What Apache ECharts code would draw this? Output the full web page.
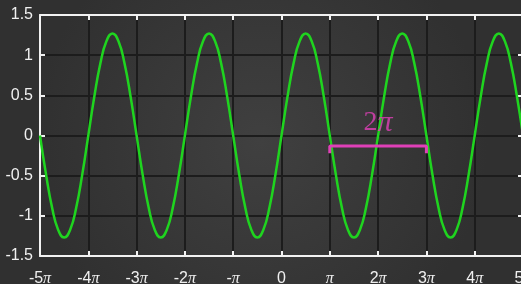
<!DOCTYPE html>
<html><head><meta charset="utf-8">
<script src="https://cdn.jsdelivr.net/npm/echarts@6/dist/echarts.min.js"></script>
<style>html,body{margin:0;padding:0;background:#353535}#c{width:521px;height:284px}</style>
</head><body><div id="c"></div>
<script>
// x in units of pi
const xValues = [
 -5,-4.875,-4.75,-4.625,-4.5,-4.375,-4.25,-4.125,
 -4,-3.875,-3.75,-3.625,-3.5,-3.375,-3.25,-3.125,
 -3,-2.875,-2.75,-2.625,-2.5,-2.375,-2.25,-2.125,
 -2,-1.875,-1.75,-1.625,-1.5,-1.375,-1.25,-1.125,
 -1,-0.875,-0.75,-0.625,-0.5,-0.375,-0.25,-0.125,
 0,0.125,0.25,0.375,0.5,0.625,0.75,0.875,
 1,1.125,1.25,1.375,1.5,1.625,1.75,1.875,
 2,2.125,2.25,2.375,2.5,2.625,2.75,2.875,
 3,3.125,3.25,3.375,3.5,3.625,3.75,3.875,
 4,4.125,4.25,4.375,4.5,4.625,4.75,4.875,
 5
];
const yValues = [
 0,-0.486,-0.898,-1.173,-1.27,-1.173,-0.898,-0.486,
 0,0.486,0.898,1.173,1.27,1.173,0.898,0.486,
 0,-0.486,-0.898,-1.173,-1.27,-1.173,-0.898,-0.486,
 0,0.486,0.898,1.173,1.27,1.173,0.898,0.486,
 0,-0.486,-0.898,-1.173,-1.27,-1.173,-0.898,-0.486,
 0,0.486,0.898,1.173,1.27,1.173,0.898,0.486,
 0,-0.486,-0.898,-1.173,-1.27,-1.173,-0.898,-0.486,
 0,0.486,0.898,1.173,1.27,1.173,0.898,0.486,
 0,-0.486,-0.898,-1.173,-1.27,-1.173,-0.898,-0.486,
 0,0.486,0.898,1.173,1.27,1.173,0.898,0.486,
 0
];
const xTickValues = [-5,-4,-3,-2,-1,0,1,2,3,4,5];
const xTickLabels = ['-5π','-4π','-3π','-2π','-π','0','π','2π','3π','4π','5π'];
const yTickLabels = ['-1.5','-1','-0.5','0','0.5','1','1.5'];
const bracketX = [1,1,3,3];
const bracketY = [-0.22,-0.13,-0.13,-0.22];
const bracketLabelPos = [2, 0.16];

const chart = echarts.init(document.getElementById('c'), null, {renderer:'canvas'});
const lineData = xValues.map((x,i)=>[x,yValues[i]]);
const brData = bracketX.map((x,i)=>[x,bracketY[i]]);
function fmtX(v){
  const i = xTickValues.indexOf(Math.round(v));
  const s = i>=0 ? xTickLabels[i] : '';
  return s.replace('π','{p|π}');
}
const axisLine = {show:true, onZero:false, lineStyle:{color:'#f2f2f2', width:2}};
const gridLine = {show:true, lineStyle:{color:'#1c1c1c', width:2}};
const tick = {show:true, inside:true, length:5, lineStyle:{color:'#f2f2f2', width:2}};
const labelFont = {color:'#f0f0f0', fontFamily:'Liberation Sans', fontSize:16};
chart.setOption({
  backgroundColor:{type:'radial', x:0.5, y:0.5, r:0.8, colorStops:[{offset:0,color:'#404040'},{offset:1,color:'#303030'}]},
  animation:false,
  grid:{left:40, top:15, width:483, height:241, containLabel:false, outerBoundsMode:'none'},
  xAxis:[
    {type:'value', position:'bottom', min:-5, max:5, interval:1,
     axisLine, axisTick:tick, splitLine:gridLine,
     axisLabel:Object.assign({}, labelFont, {margin:15, showMaxLabel:true, showMinLabel:true, formatter:fmtX,
       rich:{p:{fontFamily:'Liberation Serif', fontStyle:'italic', fontSize:16, color:'#f0f0f0'}}})},
    {type:'value', position:'top', min:-5, max:5, interval:1,
     axisLine, axisTick:tick, splitLine:{show:false}, axisLabel:{show:false}}
  ],
  yAxis:[
    {type:'value', position:'left', min:-1.5, max:1.5, interval:0.5,
     axisLine, axisTick:tick, splitLine:gridLine,
     axisLabel:Object.assign({}, labelFont, {margin:7, formatter:(v)=>{
       const i = Math.round((v+1.5)/0.5); return yTickLabels[i]; }})},
    {type:'value', position:'right', min:-1.5, max:1.5, interval:0.5,
     axisLine, axisTick:tick, splitLine:{show:false}, axisLabel:{show:false}}
  ],
  series:[
    {type:'line', data:lineData, smooth:true, showSymbol:false, symbol:'none',
     lineStyle:{color:'#1fd41f', width:2.5}, z:3},
    {type:'line', data:brData, showSymbol:false, symbol:'none',
     lineStyle:{color:'#e040b8', width:3}, z:4},
    {type:'scatter', data:[bracketLabelPos], symbolSize:0, z:5,
     label:{show:true, position:'inside', formatter:()=>'2{p|π}',
       color:'#e040b8', fontFamily:'Liberation Serif', fontSize:28,
       rich:{p:{fontFamily:'Liberation Serif', fontStyle:'italic', fontSize:30, color:'#e040b8'}}}}
  ]
});
</script></body></html>
